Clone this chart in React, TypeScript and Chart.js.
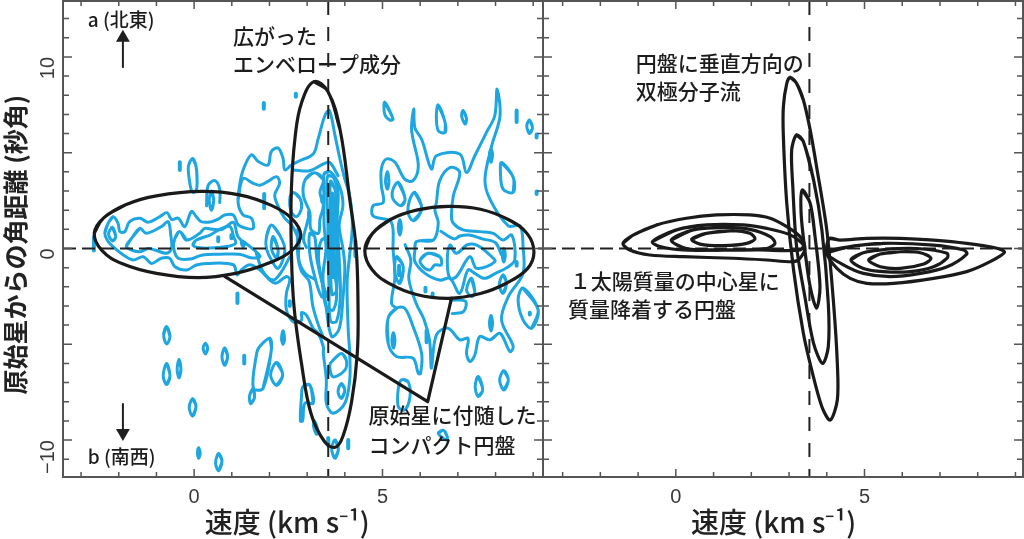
import React, { useEffect, useRef } from "react";
import { Chart, registerables } from "chart.js";

Chart.register(...registerables);

type Pt = number[];

const JP = '"Noto Sans CJK JP"';
const xTitle = "速度 (km s⁻¹)";
const yTitle = "原始星からの角距離 (秒角)";
const xTickValues = [0, 5];
const yTickValues = [-10, 0, 10];

const leftMainContour: Pt[] = [[-2.37,0.79],[-2.28,1.32],[-2.15,1.66],[-2.02,1.32],[-1.97,0.88],[-1.84,0.88],[-1.71,1.4],[-1.44,1.58],[-1.22,1.37],[-0.91,1.66],[-0.72,1.87],[-0.6,1.52],[-0.42,1.58],[-0.25,1.14],[-0.07,1.93],[0.06,1.66],[0.19,1.4],[0.46,1.4],[0.68,1.58],[0.81,1.75],[1.04,1.75],[1.17,1.23],[1.39,1.05],[1.57,1.05],[1.52,1.58],[1.3,1.75],[1.17,2.36],[1.21,3.32],[1.3,4.1],[1.52,4.89],[1.7,4.54],[1.96,4.36],[2.05,5.06],[2.23,5.24],[2.36,4.71],[2.41,4.1],[2.58,4.36],[2.8,4.58],[3.16,4.93],[3.29,5.71],[3.47,6.93],[3.59,7.2],[3.74,5.89],[3.87,4.67],[4.0,3.62],[4.13,2.75],[4.2,1.2],[4.12,-0.5],[4.06,-1.8],[4.09,-4.25],[4.13,-5.47],[4.13,-6.86],[4.0,-8.08],[3.69,-8.6],[3.51,-8.08],[3.51,-6.86],[3.43,-5.47],[3.43,-5.13],[3.29,-4.43],[3.16,-4.17],[2.98,-3.48],[2.85,-3.35],[2.85,-3.75],[2.63,-3.82],[2.45,-3.2],[2.45,-2.33],[2.54,-1.64],[2.45,-1.46],[2.14,-1.81],[1.74,-1.11],[1.48,-0.85],[1.26,-1.11],[1.14,-1.38],[1.04,-0.85],[0.33,-0.78],[0.06,-0.86],[-0.2,-1.12],[-0.51,-0.95],[-0.65,-0.51],[-0.87,-0.51],[-1.13,-0.78],[-1.35,-0.43],[-1.62,-0.6],[-1.88,-0.34],[-2.1,0],[-2.28,0.36],[-2.37,0.79]];

const leftDiskRings: Pt[][] = [
  [[-2.17,1.1],[-2.08,0.6],[-2.17,0.4],[-2.27,0.75],[-2.17,1.1]],
  [[-1.8,0.1],[-1.66,0.53],[-1.44,1.05],[-1.27,0.79],[-0.87,1.14],[-0.69,1.4],[-0.62,0.7],[-0.6,0],[-0.73,-0.25],[-1.04,-0.08],[-1.22,0],[-1.44,-0.17],[-1.66,-0.08],[-1.8,0.1]],
  [[-0.51,0.53],[-0.38,0.88],[-0.2,0.44],[0.15,0.79],[0.28,1.05],[0.5,1.0],[0.75,1.0],[1.04,1.36],[1.17,0.6],[1.45,0.15],[1.75,-0.4],[1.55,-0.5],[1.2,-0.3],[0.7,-0.3],[0.2,-0.35],[-0.1,-0.55],[-0.42,-0.51],[-0.54,0],[-0.51,0.53]],
  [[-0.03,0.18],[0.06,0.44],[0.42,0.7],[0.68,1.0],[0.95,1.15],[1.05,0.6],[1.1,0.27],[0.86,0.1],[0.42,0.02],[0.1,0.05],[-0.03,0.18]],
  [[1.25,0.35],[1.35,0.3],[1.3,0.1],[1.25,0.35]],
  [[0.46,3.0],[0.52,2.5],[0.46,2.0],[0.4,2.5],[0.46,3.0]],
  [[1.92,0.62],[2.05,1.23],[2.27,0.7],[2.41,-0.08],[2.23,-1.04],[2.05,-0.6],[1.92,0],[1.92,0.62]],
  [[2.1,0.62],[2.23,-0.08],[2.19,-0.51],[2.05,0],[2.1,0.62]],
  [[2.54,2.62],[2.63,2.92],[2.81,2.62],[2.85,2.1],[2.72,1.66],[2.58,1.92],[2.54,2.62]],
  [[-0.04,4.7],[0.05,4.3],[0.08,3.5],[0.05,3.0],[-0.05,2.95],[-0.12,3.5],[-0.15,4.3],[-0.04,4.7]],
];

const leftCoreRings: Pt[][] = [
  [[2.95,3.6],[3.2,3.95],[3.43,3.6],[3.34,2.93],[3.43,2.23],[3.34,1.53],[3.3,0.8],[3.1,1.0],[3.07,1.88],[2.9,2.75],[2.95,3.6]],
  [[3.45,3.9],[3.62,4.0],[3.85,3.3],[3.95,2.3],[3.85,1.2],[3.95,0],[4.0,-1.0],[3.95,-2.6],[3.85,-4.2],[3.65,-4.6],[3.5,-3],[3.42,-1.5],[3.5,0],[3.45,1.2],[3.45,2.6],[3.45,3.9]],
  [[3.55,3.8],[3.7,3.7],[3.82,3],[3.8,1.5],[3.85,-0.5],[3.88,-2.5],[3.78,-3.8],[3.62,-3.8],[3.58,-2],[3.55,0],[3.55,1.5],[3.52,3],[3.55,3.8]],
  [[3.62,3.5],[3.75,3.0],[3.75,1.6],[3.8,-0.5],[3.78,-2.2],[3.66,-2.4],[3.62,-0.5],[3.62,1.6],[3.62,3.5]],
  [[3.67,2.9],[3.72,2.2],[3.72,0.2],[3.72,-1.4],[3.66,-1.4],[3.66,0.5],[3.65,2],[3.67,2.9]],
  [[3.07,0.79],[3.2,0.62],[3.25,-0.43],[3.38,-1.65],[3.51,-2.5],[3.38,-2.5],[3.2,-1.46],[3.07,-0.25],[3.07,0.79]],
  [[3.38,0.44],[3.56,0.53],[3.6,-0.25],[3.78,-2],[3.7,-3.2],[3.5,-3.0],[3.4,-1.8],[3.3,-0.5],[3.38,0.44]],
  [[3.69,-5.83],[3.91,-5.48],[4.04,-5.83],[4.0,-6.35],[3.69,-6.7],[3.6,-6.09],[3.69,-5.83]],
  [[3.91,-7.05],[4.0,-7.4],[3.91,-7.83],[3.82,-7.48],[3.91,-7.05]],
  [[3.74,-10.0],[3.83,-10.45],[3.74,-10.95],[3.65,-10.45],[3.74,-10.0]],
  [[2.89,-7.21],[3.07,-7.12],[3.16,-8.08],[2.94,-8.08],[2.88,-9.0],[2.82,-9.0],[2.85,-7.74],[2.89,-7.21]],
  [[3.19,-9.0],[3.27,-9.4],[3.25,-9.7],[3.17,-9.3],[3.19,-9.0]],
];

const leftSouthRings: Pt[][] = [
  [[-0.81,-4.51],[-0.73,-4.08],[-0.64,-4.6],[-0.73,-4.98],[-0.81,-4.51]],
  [[0.3,-4.95],[0.36,-5.2],[0.3,-5.5],[0.24,-5.2],[0.3,-4.95]],
  [[0.81,-5.2],[0.89,-5.65],[0.81,-6.1],[0.74,-5.65],[0.81,-5.2]],
  [[2.36,-4.3],[2.4,-4.7],[2.36,-5.0],[2.32,-4.7],[2.36,-4.3]],
  [[2.01,-4.69],[2.05,-5.3],[1.83,-7.3],[1.57,-7.3],[1.66,-5.47],[1.74,-5.12],[2.01,-4.69]],
  [[2.19,-5.95],[2.35,-6.6],[2.19,-7.15],[2.03,-6.6],[2.19,-5.95]],
  [[1.57,-7.3],[1.6,-7.8],[1.5,-8.1],[1.47,-7.7],[1.57,-7.3]],
  [[-0.4,-5.8],[-0.35,-6.3],[-0.4,-6.75],[-0.45,-6.3],[-0.4,-5.8]],
  [[-0.73,-6.0],[-0.64,-6.65],[-0.73,-7.1],[-0.82,-6.65],[-0.73,-6.0]],
  [[-0.04,-7.85],[0.05,-8.25],[-0.04,-8.75],[-0.13,-8.3],[-0.04,-7.85]],
  [[0.12,-10.4],[0.16,-10.7],[0.12,-10.95],[0.09,-10.7],[0.12,-10.4]],
  [[0.65,-10.7],[0.74,-11.1],[0.65,-11.6],[0.57,-11.2],[0.65,-10.7]],
];

const leftRedMain: Pt[] = [[5.37,-3.12],[5.24,-2.87],[5.33,-1.47],[5.28,0],[5.28,1.0],[5.2,1.45],[4.75,1.7],[4.75,2.23],[5.02,2.4],[4.97,3.28],[4.97,4.15],[5.1,4.67],[5.33,4.5],[5.59,3.62],[5.81,3.54],[5.95,4.32],[5.81,5.71],[5.77,6.3],[5.83,7.3],[5.86,6.3],[6.04,5.7],[6.3,4.15],[6.43,4.84],[7.05,4.93],[7.23,3.97],[7.45,4.84],[7.76,6.06],[7.98,6.93],[8.04,8.33],[8.12,6.93],[7.9,5.37],[7.72,3.62],[7.85,2.58],[8.34,1.18],[8.65,1.18],[8.73,0.1],[8.73,-1.3],[8.34,-2.51],[8.16,-3.73],[8.47,-5.12],[8.38,-5.38],[8.12,-4.43],[7.85,-4.77],[7.58,-4.6],[7.45,-5.56],[7.32,-5.9],[7.23,-5.47],[7.27,-4.69],[7.05,-4.77],[6.74,-4.16],[6.43,-4.51],[6.3,-6.25],[6.25,-4.8],[6.1,-3.7],[5.9,-2.9],[5.7,-1.6],[5.75,-0.6],[5.6,0.2]];

const leftRedRings: Pt[][] = [
  [[5.37,-3.12],[5.15,-3.64],[5.15,-4.95],[5.37,-5.64],[5.81,-5.73],[5.95,-6.52],[6.01,-6.52],[6.04,-5.5],[5.81,-4.07],[5.59,-3.12],[5.37,-3.12]],
  [[5.86,-0.08],[5.9,0.36],[6.35,0.44],[6.48,1.32],[6.39,2.0],[6.43,2.4],[6.52,3.54],[6.8,4.23],[7.05,3.97],[6.88,2.75],[6.83,1.7],[6.88,1.32],[7.14,0.97],[7.59,0.88],[7.94,0.79],[8.2,0.44],[8.43,0.7],[8.51,-0.6],[8.3,-1.0],[8.0,-1.3],[7.7,-1.56],[7.45,-1.3],[7.27,-1.12],[7.05,-2.34],[6.79,-1.56],[6.52,-1.65],[6.13,-1.3],[5.86,-0.69],[5.86,-0.08]],
  [[6.0,-0.6],[6.21,-0.25],[6.52,-0.43],[6.56,-0.86],[6.39,-0.86],[6.26,-1.12],[6.08,-0.95],[6.0,-0.6]],
  [[6.79,0.18],[6.96,-0.25],[7.23,0.18],[7.5,0.18],[7.85,-0.34],[7.98,-0.69],[7.5,-1.04],[7.32,-0.43],[6.96,-1.47],[6.79,-1.56],[6.72,-0.69],[6.79,0.18]],
  [[5.06,7.63],[5.28,6.76],[5.2,6.7],[5.06,7.0],[5.06,7.63]],
  [[6.48,7.49],[6.66,6.59],[6.66,6.06],[6.48,6.15],[6.43,6.98],[6.48,7.49]],
  [[7.14,7.2],[7.23,6.76],[7.19,6.5],[7.1,6.93],[7.14,7.2]],
  [[8.9,6.7],[8.98,6.3],[8.9,6.0],[8.83,6.4],[8.9,6.7]],
  [[8.16,4.49],[8.47,3.71],[8.47,2.93],[8.2,3.1],[8.13,4.0],[8.16,4.49]],
  [[7.88,5.2],[7.92,4.9],[7.88,4.5],[7.84,4.9],[7.88,5.2]],
  [[5.13,4.0],[5.17,3.5],[5.13,3.1],[5.08,3.5],[5.13,4.0]],
  [[5.42,3.45],[5.6,2.58],[5.5,2.23],[5.28,2.58],[5.28,3.1],[5.42,3.45]],
  [[5.86,2.93],[6.04,2.06],[5.82,1.45],[5.68,1.88],[5.73,2.58],[5.86,2.93]],
  [[5.46,1.5],[5.5,1.1],[5.46,0.7],[5.42,1.1],[5.46,1.5]],
  [[5.37,-0.43],[5.55,-0.95],[5.46,-1.82],[5.33,-1.3],[5.37,-0.43]],
  [[8.22,0],[8.26,-0.35],[8.22,-0.7],[8.18,-0.35],[8.22,0]],
  [[8.2,-1.38],[8.29,-1.82],[8.2,-2.34],[8.1,-1.9],[8.2,-1.38]],
  [[7.36,-1.56],[7.45,-2.34],[7.36,-2.5],[7.23,-2.17],[7.36,-1.56]],
  [[7.88,-3.5],[7.92,-3.9],[7.88,-4.3],[7.84,-3.9],[7.88,-3.5]],
  [[5.29,-4.4],[5.33,-4.8],[5.29,-5.2],[5.25,-4.8],[5.29,-4.4]],
  [[7.54,-6.68],[7.66,-7.39],[7.54,-7.73],[7.46,-7.21],[7.54,-6.68]],
  [[8.22,-6.38],[8.34,-6.86],[8.22,-7.39],[8.11,-6.86],[8.22,-6.38]],
  [[5.42,-7.3],[5.5,-6.86],[5.68,-6.95],[5.73,-7.73],[5.59,-8.43],[5.42,-8.26],[5.42,-7.3]],
  [[6.48,-9.65],[6.62,-9.5],[6.72,-9.83],[6.7,-10.0],[6.48,-9.65]],
  [[8.73,-2.07],[9.13,-3.2],[8.96,-4.16],[8.73,-3.73],[8.6,-2.67],[8.73,-2.07]],
];

const leftOpenPaths: Pt[][] = [
  [[0.33,2.23],[0.37,3.28],[0.55,3.54],[0.68,3.1],[0.68,2.4]],
  [[1.17,2.6],[1.3,3.65],[1.57,3.4],[1.75,3.3],[1.96,3.5],[2.19,3.75],[2.27,3.4],[2.14,2.8],[2.23,2.2],[2.4,1.6],[2.6,1.2],[2.75,0.6]],
  [[1.65,-0.25],[1.83,-1.21],[2.1,-1.65],[2.32,-1.21],[2.54,-0.43]],
  [[2.63,4.1],[3.07,4.06],[3.43,4.41],[3.6,4.49],[3.82,3.8]],
  [[2.98,0.05],[2.9,0.49],[2.98,1.18],[3.07,1.88]],
  [[2.8,0.6],[2.78,-0.6],[2.95,-1.3],[3.2,-1.6]],
  [[2.75,1.0],[2.75,-0.3],[2.85,-1.2],[3.05,-1.7],[3.15,-3],[3.3,-4],[3.42,-4.6]],
  [[6.55,0.9],[6.9,0.5],[7.05,0.65],[7.3,0.7],[7.65,0.5],[8.0,0.3],[8.15,-0.3]],
  [[6.8,-2.7],[7.2,-2.75],[7.15,-3.3],[6.85,-3.4]],
];

const leftDots: Pt[][] = [
  [[1.85,7.6],[1.85,7.3]], [[2.7,8.08],[2.7,7.92]], [[-0.38,4.5],[-0.38,4.1]],
  [[-2.66,0.6],[-2.66,-0.1]], [[0.64,0.58],[0.64,0.38]], [[0.99,0.7],[0.99,0.54]],
  [[1.86,2.85],[1.86,2.1]], [[1.15,-2.35],[1.15,-2.85]], [[2.54,-2.75],[2.54,-3.0]],
  [[3.4,2.7],[3.4,2.45]], [[3.05,1.9],[3.05,1.65]], [[3.68,2.2],[3.7,-1.5]],
  [[4.09,-10],[4.09,-10.43]], [[3.56,-9.9],[3.56,-10.3]], [[1.33,-5.6],[1.33,-6.0]],
  [[8.56,7.2],[8.56,6.6]], [[9.09,5.95],[9.09,5.8]], [[9.09,2.98],[9.09,2.85]],
  [[4.28,0.4],[4.28,-0.4]], [[5.44,-0.9],[5.44,-1.4]], [[8.91,-3.35],[8.91,-3.45]],
  [[8.56,-0.7],[8.56,-0.9]], [[6.14,-2.05],[6.14,-2.25]], [[6.33,-2.35],[6.33,-2.5]],
  [[6.17,-4.3],[6.17,-4.9]],
];

const ellipseDisk: Pt[] = [[-2.65,0.8],[-2.4,1.6],[-1.8,2.3],[-1,2.75],[0.2,2.98],[1.2,2.8],[2.05,2.25],[2.6,1.55],[2.83,0.7],[2.6,-0.1],[2.0,-0.75],[1.1,-1.3],[0.1,-1.52],[-1,-1.3],[-1.9,-0.8],[-2.45,-0.1],[-2.65,0.8]];
const ellipseEnvelope: Pt[] = [[3.18,8.71],[3.55,8.2],[3.87,6.24],[4.13,2.58],[4.3,0],[4.35,-3],[4.33,-5.5],[4.18,-8],[3.95,-9.8],[3.74,-10.38],[3.45,-10.05],[3.1,-8.6],[2.85,-6],[2.65,-3],[2.58,0],[2.58,3],[2.68,5.8],[2.85,7.6],[3.18,8.71]];
const ellipseRed: Pt[] = [[4.53,-0.1],[4.72,0.75],[5.2,1.5],[5.9,2.0],[6.75,2.2],[7.6,2.05],[8.35,1.5],[8.85,0.75],[9.02,-0.2],[8.85,-1.05],[8.3,-1.8],[7.6,-2.35],[6.75,-2.6],[5.9,-2.4],[5.2,-1.85],[4.72,-1.1],[4.53,-0.1]];
const pointerLine: Pt[] = [[0.81,-1.46],[6.2,-8.0],[6.83,-2.6]];

const modelOutflow: Pt[][] = [
  [[3.03,8.94],[3.2,8.62],[3.38,7.75],[3.56,6.19],[3.73,4.27],[4.0,0.97],[4.18,-2.86],[4.28,-6.0],[4.28,-7.91],[4.09,-8.96],[3.87,-8.26],[3.6,-6.34],[3.38,-4.43],[3.12,-1.12],[2.94,2.36],[2.85,5.84],[2.85,7.41],[2.94,8.62],[3.03,8.94]],
  [[3.2,5.93],[3.38,5.58],[3.65,3.58],[3.87,0.97],[4.04,-2.86],[4.04,-5.13],[3.89,-6.0],[3.65,-4.95],[3.42,-2.52],[3.2,0.1],[3.1,3.23],[3.07,5.14],[3.2,5.93]],
  [[3.35,3.05],[3.56,2.36],[3.69,0.62],[3.82,-2.0],[3.73,-3.12],[3.56,-2.0],[3.42,-0.08],[3.32,1.83],[3.35,3.05]],
];
const modelDiskBlue: Pt[][] = [
  [[-1.4,0.27],[-1.13,0.7],[-0.51,1.23],[0.28,1.58],[1.08,1.75],[1.96,1.75],[2.5,1.58],[2.94,1.14],[3.29,0.62],[3.42,0.01],[3.29,-0.51],[3.12,-0.69],[2.41,-0.6],[1.52,-0.51],[0.19,-0.43],[-0.69,-0.34],[-1.22,-0.08],[-1.4,0.27]],
  [[-0.62,0.36],[0.02,0.97],[0.81,1.23],[1.79,1.23],[2.41,1.05],[3.03,0.71],[3.38,0.18],[3.29,-0.08],[2.23,-0.08],[1.26,-0.08],[0.19,-0.08],[-0.42,0.1],[-0.62,0.36]],
  [[-0.12,0.44],[0.46,0.97],[1.26,1.1],[1.96,1.0],[2.5,0.62],[2.63,0.27],[2.41,0],[1.26,-0.08],[0.28,0],[-0.12,0.44]],
  [[0.42,0.48],[0.81,0.79],[1.52,0.93],[1.96,0.79],[2.1,0.5],[1.88,0.27],[1.26,0.15],[0.64,0.23],[0.42,0.48]],
];
const modelDiskRed: Pt[][] = [
  [[4.07,0.53],[4.35,0.44],[5.06,0.53],[5.95,0.53],[6.83,0.44],[7.71,0.27],[8.51,0.01],[8.71,-0.2],[8.33,-0.69],[7.71,-1.21],[6.83,-1.56],[5.77,-1.82],[5.06,-1.82],[4.62,-1.56],[4.27,-1.04],[4.0,-0.25],[4.07,0.53]],
  [[4.0,-0.22],[4.62,0.1],[5.5,0.27],[6.83,0.18],[7.63,-0.08],[7.71,-0.29],[7.19,-0.95],[6.48,-1.3],[5.68,-1.47],[4.97,-1.3],[4.44,-0.86],[4.0,-0.22]],
  [[4.64,-0.6],[4.97,-0.22],[5.59,-0.04],[6.39,0],[7.19,-0.25],[7.19,-0.5],[6.83,-0.95],[6.21,-1.21],[5.5,-1.21],[4.97,-1.04],[4.64,-0.6]],
  [[5.11,-0.6],[5.42,-0.29],[5.95,-0.17],[6.48,-0.22],[6.76,-0.51],[6.57,-0.81],[5.95,-1.04],[5.42,-0.95],[5.11,-0.6]],
];

const arrowNorth: Pt[] = [[-1.89,9.43],[-1.89,10.9]];
const arrowSouth: Pt[] = [[-1.89,-8.12],[-1.89,-9.5]];
const arrowHeadNorth: Pt[] = [[-1.89,11.0]];
const arrowHeadSouth: Pt[] = [[-1.89,-9.63]];

const leftLimits = { xMin: -3.48, xMax: 9.26 };
const rightLimits = { xMin: -3.52, xMax: 9.2 };
const yLimits = { min: -11.93, max: 12.92 };
const systemicLeft = 3.56;
const systemicRight = 3.54;

interface Note { text: string; x: number; y: number; size: number }
const leftNotes: Note[] = [
  { text: "a (北東)", x: -2.82, y: 11.93, size: 19 },
  { text: "b (南西)", x: -2.82, y: -10.89, size: 19 },
  { text: "広がった", x: 1.03, y: 11.1, size: 21 },
  { text: "エンベロープ成分", x: 1.03, y: 9.63, size: 21 },
  { text: "原始星に付随した", x: 4.63, y: -8.69, size: 21 },
  { text: "コンパクト円盤", x: 4.63, y: -10.26, size: 21 },
];
const rightNotes: Note[] = [
  { text: "円盤に垂直方向の", x: -1.06, y: 9.69, size: 21 },
  { text: "双極分子流", x: -1.06, y: 8.22, size: 21 },
  { text: "１太陽質量の中心星に", x: -2.81, y: -1.7, size: 21 },
  { text: "質量降着する円盤", x: -2.86, y: -3.16, size: 21 },
];

// A closed ring overlaps its first two points so the spline has no kink at the seam.
const seamless = (pts: Pt[]) => {
  const a = pts[0];
  const b = pts[pts.length - 1];
  return pts.length > 3 && a[0] === b[0] && a[1] === b[1] ? [...pts, pts[1], pts[2]] : pts;
};
const toData = (pts: Pt[]) => seamless(pts).map(([x, y]) => ({ x, y }));
const BLUE = "#1ea6e0";
const INK = "#1a1a1a";
const TICK_FONT = '"Liberation Sans"';

const line = (pts: Pt[], color: string, width: number, tension: number, extra: object = {}) => ({
  data: toData(pts),
  showLine: true,
  borderColor: color,
  backgroundColor: color,
  borderWidth: width,
  tension,
  pointRadius: 0,
  pointHoverRadius: 0,
  borderJoinStyle: "round",
  borderCapStyle: "round",
  fill: false,
  ...extra,
});

const guides = (xMin: number, xMax: number, x0: number) => [
  line([[xMin, 0], [xMax, 0]], "#222", 2, 0, { borderDash: [13, 6], borderCapStyle: "butt" }),
  line([[x0, yLimits.max], [x0, yLimits.min]], "#222", 2, 0, { borderDash: [14, 12], borderCapStyle: "butt" }),
];

const head = (pts: Pt[], rotation: number) => ({
  data: toData(pts),
  showLine: false,
  pointStyle: "triangle",
  pointRadius: 8,
  pointRotation: rotation,
  pointBackgroundColor: "#1f1f1f",
  pointBorderColor: "#1f1f1f",
  pointBorderWidth: 0,
});

const framePlugin = (notes: Note[]) => ({
  id: "frame",
  afterDraw(chart: any) {
    const { ctx, chartArea: a, scales } = chart;
    const xs = scales.x;
    const ys = scales.y;
    ctx.save();
    ctx.strokeStyle = "#555";
    ctx.lineWidth = 1.5;
    ctx.beginPath();
    for (let v = Math.ceil(xs.min); v <= xs.max; v++) {
      const len = xTickValues.includes(v) ? 8 : 5;
      const p = xs.getPixelForValue(v);
      ctx.moveTo(p, a.bottom); ctx.lineTo(p, a.bottom - len);
      ctx.moveTo(p, a.top); ctx.lineTo(p, a.top + len);
    }
    for (let v = Math.ceil(ys.min); v <= ys.max; v++) {
      const len = v % 5 === 0 ? 9 : 6;
      const p = ys.getPixelForValue(v);
      ctx.moveTo(a.left, p); ctx.lineTo(a.left + len, p);
      ctx.moveTo(a.right, p); ctx.lineTo(a.right - len, p);
    }
    ctx.stroke();
    ctx.lineWidth = 2;
    ctx.strokeRect(a.left, a.top, a.right - a.left, a.bottom - a.top);
    ctx.fillStyle = "#1c1c1c";
    ctx.textBaseline = "middle";
    ctx.textAlign = "left";
    for (const n of notes) {
      ctx.font = `500 ${n.size}px ${JP}`;
      ctx.fillText(n.text, xs.getPixelForValue(n.x), ys.getPixelForValue(n.y));
    }
    ctx.restore();
  },
});

const zeroPadding = (s: any) => {
  s.paddingTop = 0;
  s.paddingBottom = 0;
  s.paddingLeft = 0;
  s.paddingRight = 0;
};

const xAxis = (limits: { xMin: number; xMax: number }, title: string) => ({
  type: "linear",
  min: limits.xMin,
  max: limits.xMax,
  afterBuildTicks: (s: any) => { s.ticks = xTickValues.map((value) => ({ value })); },
  afterFit: (s: any) => { s.height = 62; zeroPadding(s); },
  grid: { display: false, drawTicks: false },
  border: { display: false },
  ticks: {
    padding: 8,
    color: "#3a3a3a",
    font: { family: TICK_FONT, size: 20 },
    maxRotation: 0,
    autoSkip: false,
    callback: (v: any) => String(v),
  },
  title: {
    display: true,
    text: title,
    color: "#222",
    padding: { top: 0, bottom: 0 },
    font: { family: JP, size: 28, weight: "500" },
  },
});

function makeLeft(canvas: HTMLCanvasElement) {
  const datasets: any[] = [
    line(pointerLine, INK, 3.2, 0),
    line(ellipseDisk, INK, 3.2, 0.4),
    line(ellipseEnvelope, INK, 3.2, 0.4),
    line(ellipseRed, INK, 3.2, 0.4),
    head(arrowHeadNorth, 0),
    head(arrowHeadSouth, 180),
    line(arrowNorth, "#1f1f1f", 2, 0, { borderCapStyle: "butt" }),
    line(arrowSouth, "#1f1f1f", 2, 0, { borderCapStyle: "butt" }),
    ...guides(leftLimits.xMin, leftLimits.xMax, systemicLeft),
    line(leftMainContour, BLUE, 3, 0.35),
    line(leftRedMain, BLUE, 3, 0.35),
    ...[...leftDiskRings, ...leftCoreRings, ...leftSouthRings, ...leftRedRings, ...leftOpenPaths].map((r) => line(r, BLUE, 3, 0.35)),
    ...leftDots.map((r) => line(r, BLUE, 4, 0)),
  ];
  return new Chart(canvas, {
    type: "scatter",
    data: { datasets },
    plugins: [framePlugin(leftNotes)],
    options: {
      animation: false,
      responsive: false,
      layout: { autoPadding: false, padding: { top: 1, right: 1, left: 0, bottom: 0 } },
      plugins: { legend: { display: false }, tooltip: { enabled: false } },
      scales: {
        x: xAxis(leftLimits, xTitle + "\u00a0\u00a0\u00a0\u00a0\u00a0"),
        y: {
          type: "linear",
          min: yLimits.min,
          max: yLimits.max,
          afterBuildTicks: (s: any) => { s.ticks = yTickValues.map((value) => ({ value })); },
          afterFit: (s: any) => { s.width = 63; zeroPadding(s); },
          grid: { display: false, drawTicks: false },
          border: { display: false },
          ticks: {
            padding: 15,
            minRotation: 90,
            maxRotation: 90,
            color: "#3a3a3a",
            font: { family: TICK_FONT, size: 20 },
            callback: (v: any) => String(v).replace("-", "\u2212"),
          },
          title: {
            display: true,
            text: yTitle + "\u00a0\u00a0",
            color: "#222",
            padding: { top: 0, bottom: 0 },
            font: { family: JP, size: 25, weight: "700" },
          },
        },
      },
    },
  } as any);
}

function makeRight(canvas: HTMLCanvasElement) {
  const datasets: any[] = [
    ...[...modelOutflow, ...modelDiskBlue, ...modelDiskRed].map((r) => line(r, INK, 3.2, 0.3)),
    ...guides(rightLimits.xMin, rightLimits.xMax, systemicRight),
  ];
  return new Chart(canvas, {
    type: "scatter",
    data: { datasets },
    plugins: [framePlugin(rightNotes)],
    options: {
      animation: false,
      responsive: false,
      layout: { autoPadding: false, padding: { top: 1, right: 1, left: 0, bottom: 0 } },
      plugins: { legend: { display: false }, tooltip: { enabled: false } },
      scales: {
        x: xAxis(rightLimits, xTitle + "\u00a0\u00a0\u00a0"),
        y: { type: "linear", display: false, min: yLimits.min, max: yLimits.max },
      },
    },
  } as any);
}

export default function App() {
  const leftRef = useRef<HTMLCanvasElement>(null);
  const rightRef = useRef<HTMLCanvasElement>(null);
  useEffect(() => {
    const a = makeLeft(leftRef.current!);
    const b = makeRight(rightRef.current!);
    return () => { a.destroy(); b.destroy(); };
  }, []);
  return (
    <div style={{ position: "absolute", left: 0, top: 0, width: 1024, height: 539, overflow: "hidden", background: "#fff" }}>
      <canvas ref={leftRef} width={544} height={539} style={{ position: "absolute", left: 0, top: 0, display: "block" }} />
      <canvas ref={rightRef} width={481} height={539} style={{ position: "absolute", left: 543, top: 0, display: "block" }} />
    </div>
  );
}
